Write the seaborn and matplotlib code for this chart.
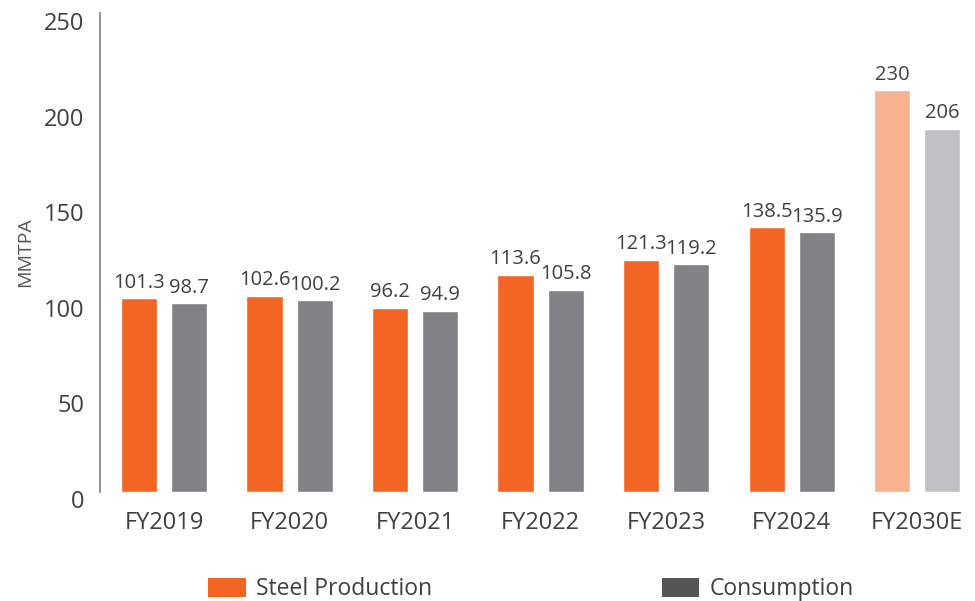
import matplotlib
matplotlib.use("Agg")
import matplotlib.pyplot as plt
import matplotlib.transforms as mtransforms
from matplotlib.patches import Patch
import seaborn as sns
import pandas as pd

years = ["FY2019", "FY2020", "FY2021", "FY2022", "FY2023", "FY2024", "FY2030E"]
production = [101.3, 102.6, 96.2, 113.6, 121.3, 138.5, 230]
consumption = [98.7, 100.2, 94.9, 105.8, 119.2, 135.9, 206]
# bar heights as drawn in the reference (the FY2030E bars are drawn shorter than their labels)
production_drawn = [101.3, 102.6, 96.2, 113.6, 121.3, 138.5, 210]
consumption_drawn = [98.7, 100.2, 94.9, 105.8, 119.2, 135.9, 190]
series = ["Steel Production", "Consumption"]
yticks = [0, 50, 100, 150, 200, 250]

df = pd.DataFrame({
    "year": years * 2,
    "series": [series[0]] * len(years) + [series[1]] * len(years),
    "value": production_drawn + consumption_drawn,
})

sns.set_theme(style="white")
plt.rcParams["font.family"] = ["Open Sans", "DejaVu Sans"]

text_color = "#404040"
orange, gray = "#F26522", "#818285"
light_orange, light_gray = "#F9B28F", "#BFC0C2"

fig = plt.figure(figsize=(9.75, 6.01), dpi=100)
ax = fig.add_axes([100 / 975, 1 - 492 / 601, 870 / 975, 479 / 601])

sns.barplot(data=df, x="year", y="value", hue="series", hue_order=series,
            order=years, palette=[orange, gray], width=0.8, gap=0.28,
            ax=ax, legend=False, saturation=1)

conts = ax.containers
conts[0].patches[-1].set_facecolor(light_orange)
conts[1].patches[-1].set_facecolor(light_gray)

ax.bar_label(conts[0], labels=[f"{v:g}" for v in production], padding=4,
             fontsize=14.5, color=text_color)
ax.bar_label(conts[1], labels=[f"{v:g}" for v in consumption], padding=4,
             fontsize=14.5, color=text_color)

ax.set_xlim(-0.51, 6.42)
ax.set_ylim(0, 250.5)
ax.set_yticks(yticks)
ax.set_yticklabels([str(t) for t in yticks])
ax.tick_params(axis="y", length=0, pad=11, labelsize=17, labelcolor=text_color)
ax.tick_params(axis="x", length=0, pad=14, labelsize=17, labelcolor=text_color)
for lab in ax.get_yticklabels():
    lab.set_transform(lab.get_transform() + mtransforms.ScaledTranslation(0, -5 / 72, fig.dpi_scale_trans))

ax.set_xlabel("")
ax.set_ylabel("MMTPA", fontsize=14, color="#555555", labelpad=7)

for s in ["top", "right", "bottom"]:
    ax.spines[s].set_visible(False)
ax.spines["left"].set_color("#808080")
ax.spines["left"].set_linewidth(1.2)

handles = [Patch(facecolor=orange, edgecolor="none"), Patch(facecolor="#555555", edgecolor="none")]
fig.legend(handles, series, loc="center", bbox_to_anchor=(531 / 975, 1 - 589 / 601),
           ncol=2, frameon=False, fontsize=16.5, handlelength=1.65, handleheight=0.9,
           handletextpad=0.45, columnspacing=10.0, labelcolor=text_color)

fig.savefig("out.png", dpi=100)
